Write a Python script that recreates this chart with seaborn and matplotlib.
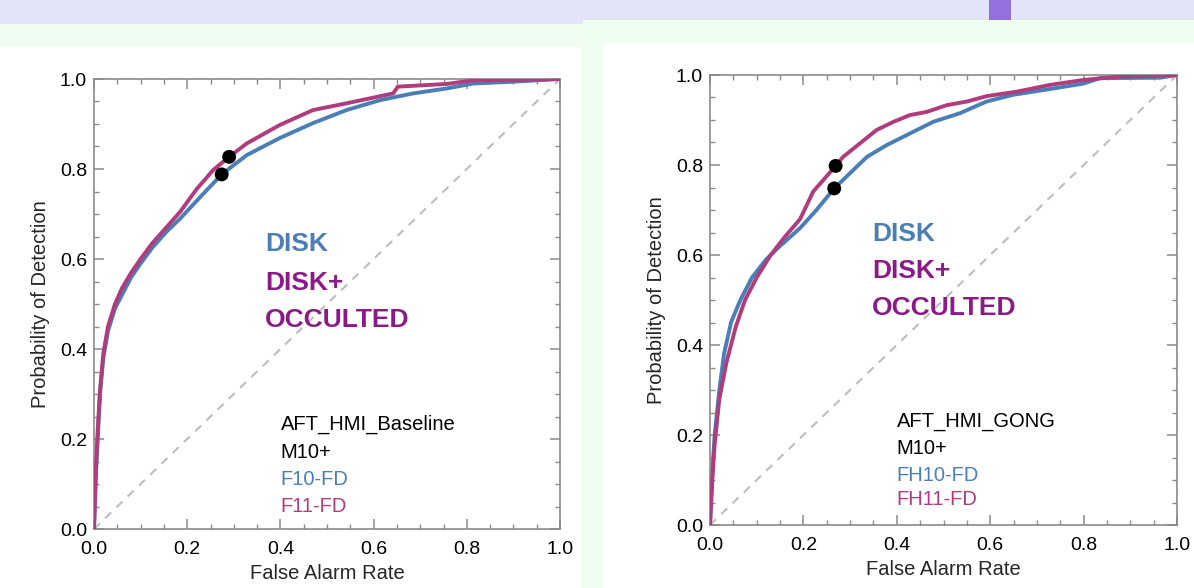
"""
ROC curves: AFT_HMI_Baseline vs AFT_HMI_GONG, disk and disk+occulted
"""
import matplotlib
matplotlib.use('Agg')
import matplotlib.pyplot as plt
from matplotlib.patches import Rectangle
import seaborn as sns

# ---- data ----
# left panel (AFT_HMI_Baseline)
base_disk_far = [0.0, 0.004, 0.008, 0.013, 0.02, 0.03, 0.045, 0.06, 0.08, 0.10, 0.125, 0.155,
                 0.185, 0.23, 0.274, 0.328, 0.399, 0.47, 0.542, 0.614, 0.685, 0.757, 0.814, 0.90, 1.0]
base_disk_pod = [0.0, 0.12, 0.20, 0.30, 0.38, 0.44, 0.49, 0.52, 0.56, 0.59, 0.625, 0.66,
                 0.69, 0.74, 0.788, 0.831, 0.869, 0.902, 0.931, 0.953, 0.968, 0.979, 0.99, 0.994, 1.0]
base_occ_far = [0.0, 0.004, 0.008, 0.013, 0.02, 0.03, 0.045, 0.06, 0.08, 0.10, 0.125, 0.155,
                0.185, 0.22, 0.256, 0.29, 0.328, 0.399, 0.47, 0.542, 0.642, 0.652, 0.757, 0.814, 1.0]
base_occ_pod = [0.0, 0.13, 0.22, 0.31, 0.39, 0.45, 0.50, 0.535, 0.57, 0.60, 0.635, 0.67,
                0.705, 0.755, 0.798, 0.827, 0.857, 0.898, 0.931, 0.946, 0.968, 0.983, 0.989, 0.997, 1.0]
base_dots_far = [0.274, 0.290]
base_dots_pod = [0.788, 0.827]

# right panel (AFT_HMI_GONG)
gong_disk_far = [0.0, 0.005, 0.01, 0.02, 0.03, 0.045, 0.065, 0.09, 0.12, 0.15, 0.193, 0.228,
                 0.266, 0.30, 0.336, 0.378, 0.428, 0.478, 0.535, 0.592, 0.649, 0.735, 0.80,
                 0.835, 0.964, 1.0]
gong_disk_pod = [0.0, 0.12, 0.20, 0.30, 0.38, 0.45, 0.50, 0.55, 0.59, 0.62, 0.66, 0.70,
                 0.748, 0.782, 0.818, 0.844, 0.87, 0.896, 0.915, 0.941, 0.956, 0.97, 0.981,
                 0.993, 0.994, 1.0]
gong_occ_far = [0.0, 0.005, 0.01, 0.02, 0.035, 0.055, 0.075, 0.10, 0.13, 0.16, 0.193, 0.221,
                0.269, 0.285, 0.321, 0.357, 0.393, 0.428, 0.464, 0.507, 0.55, 0.592, 0.657,
                0.728, 0.80, 0.871, 1.0]
gong_occ_pod = [0.0, 0.10, 0.18, 0.28, 0.36, 0.44, 0.50, 0.55, 0.60, 0.64, 0.68, 0.741,
                0.798, 0.818, 0.848, 0.878, 0.896, 0.911, 0.918, 0.933, 0.941, 0.953, 0.963,
                0.978, 0.989, 0.996, 1.0]
gong_dots_far = [0.266, 0.269]
gong_dots_pod = [0.748, 0.798]

tick_major = [0.0, 0.2, 0.4, 0.6, 0.8, 1.0]
tick_minor = [i * 0.05 for i in range(21)]

panels = [
    dict(disk=(base_disk_far, base_disk_pod), occ=(base_occ_far, base_occ_pod),
         dots=(base_dots_far, base_dots_pod),
         notes=['AFT_HMI_Baseline', 'M10+', 'F10-FD', 'F11-FD'],
         big_xy=(0.367, [0.633, 0.547, 0.464]), note_xy=(0.401, [0.233, 0.171, 0.111, 0.051])),
    dict(disk=(gong_disk_far, gong_disk_pod), occ=(gong_occ_far, gong_occ_pod),
         dots=(gong_dots_far, gong_dots_pod),
         notes=['AFT_HMI_GONG', 'M10+', 'FH10-FD', 'FH11-FD'],
         big_xy=(0.347, [0.647, 0.564, 0.482]), note_xy=(0.40, [0.229, 0.169, 0.109, 0.056])),
]

BLUE = '#4a7eb4'
MAGENTA = '#b03b7d'
PURPLE = '#8b1a87'
GRID = '#8a8a8a'

sns.set_style('ticks')
plt.rcParams['font.family'] = ['Liberation Sans', 'DejaVu Sans']

W, H = 1194, 588
fig = plt.figure(figsize=(W / 100, H / 100), dpi=100, facecolor='#effdee')


def px_rect(x0, y0, x1, y1, color, z=-10):
    # rectangle given in pixel coords from the top-left corner
    fig.patches.append(Rectangle((x0 / W, 1 - y1 / H), (x1 - x0) / W, (y1 - y0) / H,
                                 transform=fig.transFigure, color=color, zorder=z, lw=0))


# slide background pieces
px_rect(0, 0, 583, 24, '#e4e4f8')
px_rect(583, 0, W, 20, '#e4e4f8')
px_rect(989, 0, 1011, 20, '#9370db', z=-9)
px_rect(0, 47, 581, H, 'white')
px_rect(603, 43, W, H, 'white')

axes_px = [(94, 79, 560, 529), (710, 75, 1177, 525)]

for (x0, y0, x1, y1), p in zip(axes_px, panels):
    ax = fig.add_axes([x0 / W, 1 - y1 / H, (x1 - x0) / W, (y1 - y0) / H])
    ax.set_facecolor('white')

    sns.lineplot(x=[0, 1], y=[0, 1], ax=ax, color='#bdbdbd', lw=1.5,
                 linestyle=(0, (4, 3.5)), zorder=1)
    sns.lineplot(x=p['disk'][0], y=p['disk'][1], ax=ax, color=BLUE, lw=2.8,
                 sort=False, estimator=None, zorder=2)
    sns.lineplot(x=p['occ'][0], y=p['occ'][1], ax=ax, color=MAGENTA, lw=2.8,
                 sort=False, estimator=None, zorder=3)
    sns.scatterplot(x=p['dots'][0], y=p['dots'][1], ax=ax, color='black', s=100,
                    edgecolor='none', zorder=4)

    ax.set_xlim(0, 1)
    ax.set_ylim(0, 1)
    ax.set_xticks(tick_major)
    ax.set_yticks(tick_major)
    ax.set_xticks(tick_minor, minor=True)
    ax.set_yticks(tick_minor, minor=True)
    ax.set_xticklabels([f'{v:.1f}' for v in tick_major])
    ax.set_yticklabels([f'{v:.1f}' for v in tick_major])
    ax.tick_params(which='both', direction='in', top=True, right=True, color=GRID,
                   labelsize=14, labelcolor='black')
    ax.tick_params(which='major', length=7, width=1.1)
    ax.tick_params(which='minor', length=3.5, width=1.0)
    ax.tick_params(axis='x', pad=9)
    ax.tick_params(axis='y', pad=5)
    for s in ax.spines.values():
        s.set_color(GRID)
        s.set_linewidth(1.2)

    ax.set_xlabel('False Alarm Rate', fontsize=14.5, labelpad=4)
    ax.set_ylabel('Probability of Detection', fontsize=14.5, labelpad=7)

    bx, bys = p['big_xy']
    for txt, yy, c in zip(['DISK', 'DISK+', 'OCCULTED'], bys, [BLUE, PURPLE, PURPLE]):
        ax.text(bx, yy, txt, color=c, fontsize=19, fontweight='bold',
                ha='left', va='center', transform=ax.transAxes)

    nx, nys = p['note_xy']
    for txt, yy, c in zip(p['notes'], nys, ['black', 'black', BLUE, MAGENTA]):
        ax.text(nx, yy, txt, color=c, fontsize=14.5, ha='left', va='center',
                transform=ax.transAxes)

plt.savefig('out.png', dpi=100, facecolor=fig.get_facecolor())
